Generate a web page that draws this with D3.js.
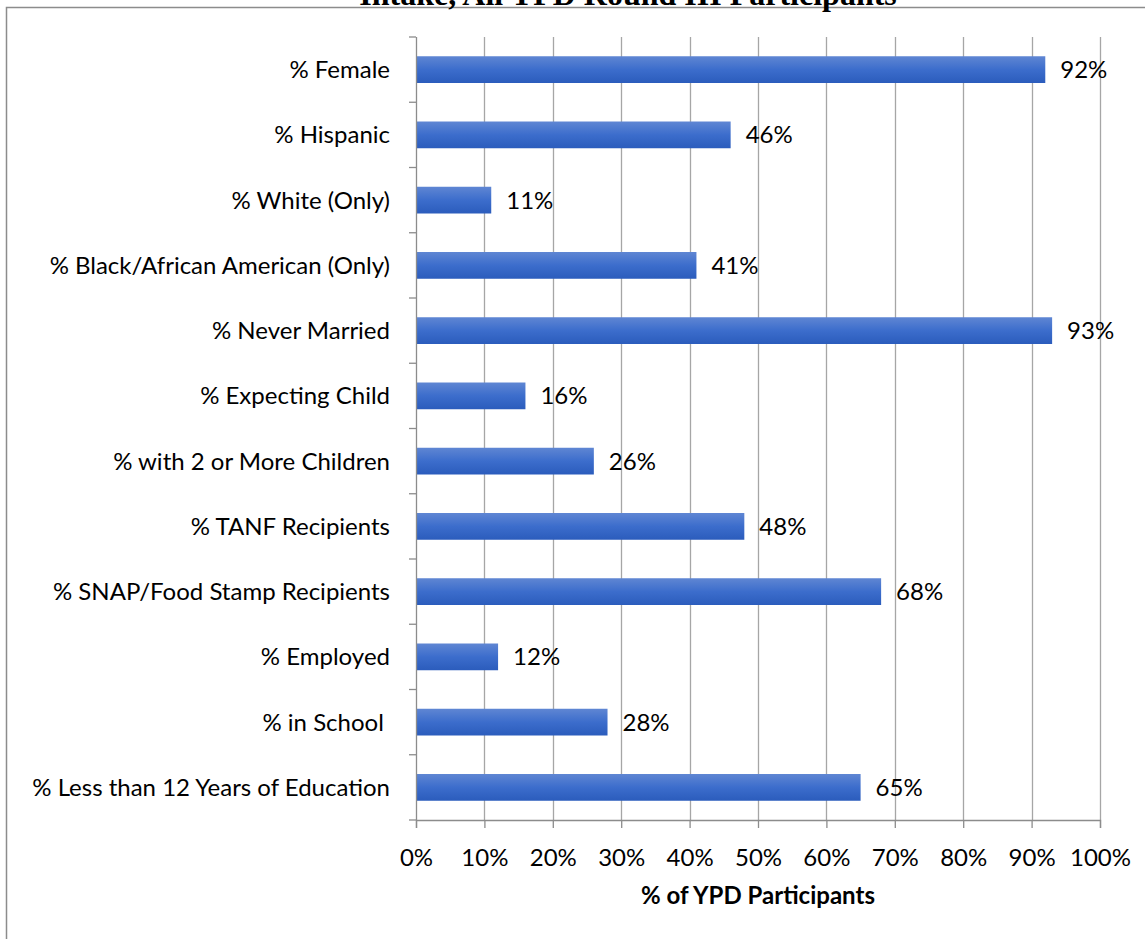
<!DOCTYPE html>
<html>
<head>
<meta charset="utf-8">
<script src="https://cdn.jsdelivr.net/npm/d3@7"></script>
<style>
  body { margin: 0; background: #fff; }
  svg text { font-family: Lato, "Open Sans", sans-serif; fill: #000; }
</style>
</head>
<body>
<div id="chart"></div>
<script>
// chart data
var categories = [
  "% Female",
  "% Hispanic",
  "% White (Only)",
  "% Black/African American (Only)",
  "% Never Married",
  "% Expecting Child",
  "% with 2 or More Children",
  "% TANF Recipients",
  "% SNAP/Food Stamp Recipients",
  "% Employed",
  "% in School ",
  "% Less than 12 Years of Education"
];
var values = [92, 46, 11, 41, 93, 16, 26, 48, 68, 12, 28, 65];
var xTicks = [0, 10, 20, 30, 40, 50, 60, 70, 80, 90, 100];

var svgWidth = 1145;
var svgHeight = 939;

var margin = { top: 37, right: 45, bottom: 119, left: 416 };
var width = svgWidth - margin.left - margin.right;
var height = svgHeight - margin.top - margin.bottom;

var svg = d3.select("#chart")
  .append("svg")
  .attr("width", svgWidth)
  .attr("height", svgHeight);

// gradient for bars
var grad = svg.append("defs").append("linearGradient")
  .attr("id", "barGrad")
  .attr("x1", 0).attr("y1", 0).attr("x2", 0).attr("y2", 1);
grad.append("stop").attr("offset", "0%").attr("stop-color", "#5f86d3");
grad.append("stop").attr("offset", "50%").attr("stop-color", "#3c6dcc");
grad.append("stop").attr("offset", "100%").attr("stop-color", "#2b5cbc");

// outer frame (chart area border)
svg.append("rect")
  .attr("x", 6.5).attr("y", 7.5)
  .attr("width", 1300).attr("height", 1000)
  .attr("fill", "none")
  .attr("stroke", "#8c8c8c")
  .attr("stroke-width", 1.5);

// title, clipped at the top edge as in the source image
svg.append("text")
  .attr("x", 628)
  .attr("y", 5)
  .attr("text-anchor", "middle")
  .style("font-family", "'Liberation Serif', 'Times New Roman', serif")
  .style("font-weight", "bold")
  .style("font-size", "32px")
  .text("Intake, All YPD Round III Participants");

var chartGroup = svg.append("g")
  .attr("transform", `translate(${margin.left}, ${margin.top})`);

var xScale = d3.scaleLinear()
  .domain([0, 100])
  .range([0, width]);

var yScale = d3.scaleBand()
  .domain(categories)
  .range([0, height])
  .paddingInner(0.59)
  .paddingOuter(0.295);

// vertical gridlines
chartGroup.selectAll(".grid")
  .data(xTicks.slice(1))
  .enter()
  .append("line")
  .attr("x1", d => Math.round(xScale(d)) + 0.5)
  .attr("x2", d => Math.round(xScale(d)) + 0.5)
  .attr("y1", 0)
  .attr("y2", height)
  .attr("stroke", "#a6a6a6")
  .attr("stroke-width", 1.3);

// bars
chartGroup.selectAll(".bar")
  .data(values)
  .enter()
  .append("rect")
  .attr("x", 0)
  .attr("y", (d, i) => yScale(categories[i]))
  .attr("width", d => xScale(d))
  .attr("height", yScale.bandwidth())
  .attr("fill", "url(#barGrad)");

// value labels
chartGroup.selectAll(".val")
  .data(values)
  .enter()
  .append("text")
  .attr("x", d => xScale(d) + 15)
  .attr("y", (d, i) => yScale(categories[i]) + yScale.bandwidth() / 2)
  .attr("dy", "0.35em")
  .style("font-size", "24px")
  .text(d => d + "%");

// bottom axis
var bottomAxis = d3.axisBottom(xScale)
  .tickValues(xTicks)
  .tickFormat(d => d + "%")
  .tickSize(8)
  .tickPadding(21);

var xAxisG = chartGroup.append("g")
  .attr("transform", `translate(0, ${height})`)
  .call(bottomAxis);
xAxisG.selectAll("line, path").attr("stroke", "#8c8c8c").attr("stroke-width", 1.3);
xAxisG.selectAll("text")
  .style("font-size", "24px")
  .style("font-family", "Lato, 'Open Sans', sans-serif");

// left axis, ticks between categories
var yTickPos = d3.range(categories.length + 1).map(i => i * height / categories.length);
var leftG = chartGroup.append("g");
leftG.append("line")
  .attr("x1", 0.5).attr("x2", 0.5)
  .attr("y1", 0).attr("y2", height)
  .attr("stroke", "#8c8c8c").attr("stroke-width", 1.3);
leftG.selectAll(".ytick")
  .data(yTickPos)
  .enter()
  .append("line")
  .attr("x1", -7).attr("x2", 0)
  .attr("y1", d => d).attr("y2", d => d)
  .attr("stroke", "#8c8c8c").attr("stroke-width", 1.3);

leftG.selectAll(".ylab")
  .data(categories)
  .enter()
  .append("text")
  .attr("x", -26)
  .attr("y", d => yScale(d) + yScale.bandwidth() / 2)
  .attr("dy", "0.35em")
  .attr("text-anchor", "end")
  .style("font-size", "24px")
  .style("white-space", "pre")
  .text(d => d);

// axis title
chartGroup.append("text")
  .attr("x", width / 2)
  .attr("y", height + 84)
  .attr("text-anchor", "middle")
  .style("font-size", "24px")
  .style("font-weight", "bold")
  .text("% of YPD Participants");
</script>
</body>
</html>
